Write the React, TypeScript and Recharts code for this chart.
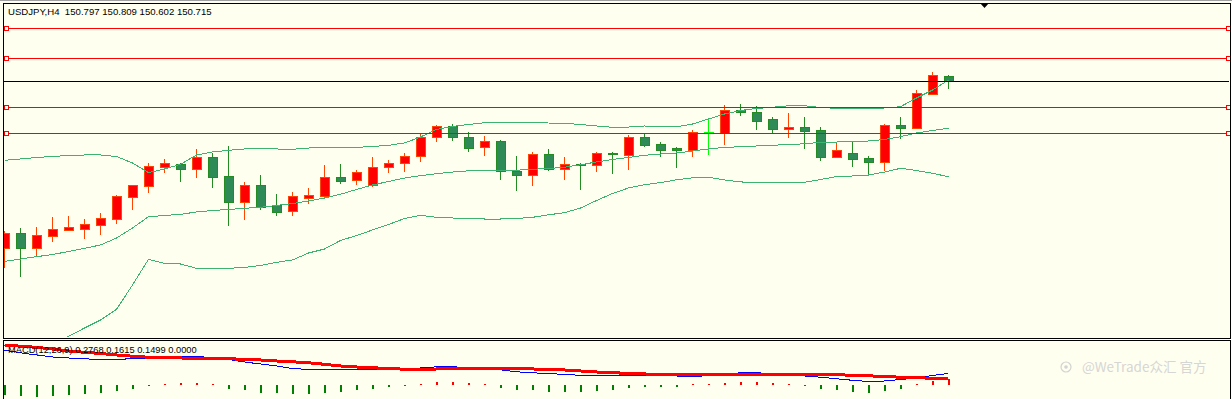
import React from 'react';
import { ComposedChart, Bar, Line, XAxis, YAxis, ReferenceLine } from 'recharts';

// USDJPY H4 candles, oldest -> newest
const openPrices = [
  147.927, 148.177, 147.937, 148.137, 148.237, 148.253, 148.320, 148.420, 148.787, 148.970,
  149.287, 149.332, 149.253, 149.443, 149.127, 148.693, 148.977, 148.643, 148.543, 148.770,
  148.803, 149.110, 149.060, 148.977, 149.277, 149.343, 149.460, 149.777, 149.960, 149.777,
  149.610, 149.710, 149.210, 149.143, 149.493, 149.243, 149.327, 149.310, 149.515, 149.487,
  149.777, 149.660, 149.598, 149.570, 149.865, 149.853, 150.227, 150.193, 150.077, 149.920,
  149.948, 149.898, 149.453, 149.515, 149.432, 149.370, 149.982, 149.937, 150.503, 150.797,
];
const highPrices = [
  148.215, 148.270, 148.282, 148.448, 148.465, 148.415, 148.515, 148.810, 148.977, 149.348,
  149.415, 149.348, 149.577, 149.515, 149.632, 149.032, 149.148, 148.832, 148.865, 148.932,
  149.315, 149.332, 149.232, 149.448, 149.398, 149.515, 149.848, 149.982, 149.998, 149.865,
  149.798, 149.727, 149.465, 149.527, 149.577, 149.443, 149.343, 149.532, 149.537, 149.810,
  149.832, 149.703, 149.615, 149.898, 150.098, 150.315, 150.332, 150.298, 150.115, 150.182,
  150.115, 149.948, 149.687, 149.693, 149.460, 149.990, 150.115, 150.565, 150.865, 150.809,
];
const lowPrices = [
  147.620, 147.470, 147.815, 148.053, 148.232, 148.103, 148.170, 148.353, 148.587, 148.870,
  149.203, 149.053, 149.120, 148.953, 148.320, 148.420, 148.577, 148.487, 148.487, 148.677,
  148.787, 149.020, 149.003, 148.972, 149.203, 149.220, 149.382, 149.720, 149.737, 149.553,
  149.487, 149.087, 148.903, 148.987, 149.227, 149.087, 148.920, 149.220, 149.187, 149.253,
  149.637, 149.470, 149.287, 149.470, 149.503, 149.670, 150.148, 149.920, 149.865, 149.787,
  149.603, 149.403, 149.450, 149.303, 149.148, 149.232, 149.760, 149.930, 150.500, 150.602,
];
const closePrices = [
  148.177, 147.937, 148.148, 148.248, 148.282, 148.327, 148.427, 148.793, 148.977, 149.293,
  149.343, 149.253, 149.443, 149.120, 148.693, 148.977, 148.610, 148.537, 148.793, 148.810,
  149.110, 149.053, 149.193, 149.277, 149.343, 149.460, 149.777, 149.960, 149.777, 149.603,
  149.710, 149.210, 149.143, 149.493, 149.243, 149.327, 149.310, 149.510, 149.493, 149.777,
  149.653, 149.570, 149.570, 149.860, 149.853, 150.227, 150.203, 150.053, 149.920, 149.943,
  149.887, 149.453, 149.565, 149.420, 149.370, 149.982, 149.937, 150.515, 150.815, 150.715,
];

// Bollinger bands
const bbUpper = [
  149.393, 149.415, 149.440, 149.457, 149.473, 149.482, 149.482, 149.457, 149.348, 149.187,
  149.248, 149.327, 149.482, 149.532, 149.560, 149.582, 149.582, 149.582, 149.577, 149.598,
  149.610, 149.610, 149.610, 149.623, 149.643, 149.682, 149.782, 149.907, 149.957, 149.990,
  150.020, 150.020, 150.020, 150.018, 150.015, 150.010, 149.990, 149.965, 149.943, 149.948,
  149.965, 149.960, 149.953, 149.998, 150.082, 150.165, 150.223, 150.257, 150.277, 150.303,
  150.303, 150.273, 150.260, 150.260, 150.260, 150.265, 150.287, 150.432, 150.565, 150.732,
];
const bbMiddle = [
  147.710, 147.748, 147.787, 147.823, 147.873, 147.927, 147.982, 148.098, 148.265, 148.453,
  148.473, 148.493, 148.532, 148.557, 148.573, 148.593, 148.610, 148.640, 148.673, 148.715,
  148.765, 148.827, 148.907, 148.982, 149.040, 149.098, 149.137, 149.170, 149.198, 149.218,
  149.227, 149.227, 149.228, 149.243, 149.257, 149.277, 149.320, 149.365, 149.407, 149.440,
  149.477, 149.498, 149.515, 149.548, 149.582, 149.610, 149.618, 149.632, 149.643, 149.657,
  149.668, 149.693, 149.698, 149.703, 149.715, 149.740, 149.787, 149.848, 149.890, 149.927,
];
const bbLower = [
  145.998, 146.115, 146.232, 146.348, 146.457, 146.598, 146.732, 146.910, 147.315, 147.743,
  147.677, 147.665, 147.593, 147.593, 147.593, 147.607, 147.640, 147.693, 147.732, 147.848,
  147.915, 148.057, 148.140, 148.232, 148.323, 148.423, 148.477, 148.443, 148.432, 148.423,
  148.415, 148.415, 148.423, 148.443, 148.485, 148.520, 148.598, 148.723, 148.840, 148.932,
  148.987, 149.022, 149.068, 149.102, 149.110, 149.065, 149.032, 149.028, 149.028, 149.028,
  149.028, 149.073, 149.123, 149.132, 149.148, 149.198, 149.260, 149.223, 149.177, 149.120,
];

// MACD(12,26,9)
const macdMain = [
  0.835, 0.773, 0.720, 0.672, 0.648, 0.629, 0.612, 0.617, 0.629, 0.648,
  0.672, 0.677, 0.677, 0.665, 0.612, 0.552, 0.504, 0.456, 0.396, 0.372,
  0.372, 0.372, 0.372, 0.372, 0.372, 0.384, 0.408, 0.437, 0.437, 0.420,
  0.396, 0.365, 0.317, 0.293, 0.276, 0.252, 0.233, 0.228, 0.228, 0.228,
  0.228, 0.228, 0.216, 0.197, 0.228, 0.264, 0.293, 0.293, 0.276, 0.252,
  0.216, 0.187, 0.149, 0.113, 0.084, 0.096, 0.132, 0.168, 0.228, 0.2768,
];
const macdSignal = [
  0.960, 0.931, 0.905, 0.864, 0.816, 0.785, 0.756, 0.720, 0.691, 0.667,
  0.653, 0.648, 0.643, 0.636, 0.629, 0.617, 0.600, 0.576, 0.557, 0.533,
  0.497, 0.456, 0.432, 0.413, 0.396, 0.379, 0.372, 0.384, 0.403, 0.403,
  0.403, 0.403, 0.403, 0.384, 0.379, 0.360, 0.336, 0.312, 0.293, 0.281,
  0.264, 0.259, 0.240, 0.240, 0.240, 0.240, 0.240, 0.245, 0.259, 0.259,
  0.259, 0.259, 0.245, 0.235, 0.221, 0.204, 0.187, 0.173, 0.163, 0.1615,
];
const macdHist = [
  -0.240, -0.264, -0.288, -0.264, -0.240, -0.204, -0.180, -0.144, -0.084, -0.024,
  0.017, 0.041, 0.041, 0.024, -0.084, -0.120, -0.192, -0.192, -0.204, -0.204,
  -0.192, -0.156, -0.120, -0.084, -0.036, -0.017, 0.024, 0.072, 0.072, 0.048,
  0.017, -0.065, -0.120, -0.120, -0.168, -0.168, -0.168, -0.144, -0.120, -0.072,
  -0.041, -0.041, -0.041, 0.024, 0.024, 0.055, 0.072, 0.072, 0.048, 0.017,
  -0.017, -0.089, -0.120, -0.168, -0.192, -0.144, -0.089, 0.024, 0.103, 0.1499,
];

// horizontal levels drawn on the chart
const redLevels = [151.593, 151.093, 150.277, 149.843];
const bidPrice = 150.715;

const titleText = 'USDJPY,H4  150.797 150.809 150.602 150.715';
const macdText = 'MACD(12,26,9) 0.2768 0.1615 0.1499 0.0000';
const watermark = '@WeTrade众汇 官方';

const BG = '#fffff0';
const HIGHLIGHT_BAR = 44; // bar drawn in lime (crosshair bar in MT4)
const FONT = "'Liberation Sans', Arial, sans-serif";

const candles = openPrices.map((o, i) => ({
  i,
  open: o,
  high: highPrices[i],
  low: lowPrices[i],
  close: closePrices[i],
  range: [lowPrices[i], highPrices[i]],
  upper: bbUpper[i],
  mid: bbMiddle[i],
  lower: bbLower[i],
}));

const macdRows = macdMain.map((m, i) => ({ i, main: m, signal: macdSignal[i], hist: macdHist[i] }));

const X_DOMAIN: [number, number] = [-0.0625, 76.5];

const Candle = (props: any) => {
  const { x, y, width, height, index } = props;
  const d = props.payload ?? props;
  if (d == null || d.high == null) return null;
  const { open, close, high, low } = d;
  const pix = (v: number) => y + ((high - v) / (high - low)) * height;
  const cx = Math.floor(x + width / 2) + 0.5;
  const up = close >= open;
  const hl = index === HIGHLIGHT_BAR;
  const edge = hl ? '#00ff00' : up ? '#ff4500' : '#228b22';
  const fill = hl ? '#00ff00' : up ? '#ff0000' : '#2e8b57';
  const top = Math.round(pix(Math.max(open, close))) + 0.5;
  const bot = Math.round(pix(Math.min(open, close))) + 0.5;
  return (
    <g shapeRendering="crispEdges">
      <line x1={cx} x2={cx} y1={Math.round(pix(high))} y2={Math.round(pix(low)) + 1} stroke={edge} />
      <rect x={cx - 4} y={top} width={9} height={Math.max(bot - top, 1)} fill={fill} stroke={edge} />
    </g>
  );
};

const HistBar = (props: any) => {
  const { x, y, width, height } = props;
  const d = props.payload ?? props;
  const top = Math.round(Math.min(y, y + height));
  const h = Math.max(Math.round(Math.abs(height)), 1);
  return (
    <rect
      x={Math.floor(x + width / 2)}
      y={top}
      width={2}
      height={h}
      fill={d.hist >= 0 ? '#ff0000' : '#008000'}
      shapeRendering="crispEdges"
    />
  );
};

const LevelLine = (p: any) => (
  <g shapeRendering="crispEdges">
    <line x1={p.x1} x2={p.x2} y1={Math.round(p.y1) + 0.5} y2={Math.round(p.y2) + 0.5} stroke="#ff0000" />
    <rect x={p.x1 + 1} y={Math.round(p.y1) - 1.5} width={4} height={4} fill={BG} stroke="#ff0000" />
    <rect x={p.x2 - 2} y={Math.round(p.y2) - 1.5} width={4} height={4} fill={BG} stroke="#ff0000" />
  </g>
);

const BidLine = (p: any) => (
  <line x1={p.x1} x2={p.x2} y1={Math.round(p.y1) + 0.5} y2={Math.round(p.y2) + 0.5} stroke="#000" shapeRendering="crispEdges" />
);

export default function App() {
  return (
    <div style={{ position: 'absolute', left: 0, top: 0, width: 1232, height: 399, background: BG, overflow: 'hidden' }}>
      <div style={{ position: 'absolute', left: 0, top: 0 }}>
        <ComposedChart width={1232} height={340} data={candles} margin={{ top: 3.9, right: 3.5, bottom: 3.1, left: 3.5 }}>
          <XAxis dataKey="i" type="number" domain={X_DOMAIN} hide allowDataOverflow />
          <YAxis type="number" domain={[146.45, 152.0]} hide allowDataOverflow />
          <Line dataKey="upper" stroke="#3cb371" strokeWidth={1} dot={false} shapeRendering="crispEdges" isAnimationActive={false} />
          <Line dataKey="mid" stroke="#3cb371" strokeWidth={1} dot={false} shapeRendering="crispEdges" isAnimationActive={false} />
          <Line dataKey="lower" stroke="#3cb371" strokeWidth={1} dot={false} shapeRendering="crispEdges" isAnimationActive={false} />
          {redLevels.map((v) => (
            <ReferenceLine key={v} y={v} stroke="#ff0000" shape={LevelLine} />
          ))}
          <ReferenceLine y={bidPrice} stroke="#000" shape={BidLine} />
          <Bar dataKey="range" barSize={10} shape={(p: any) => <Candle {...p} />} isAnimationActive={false} />
        </ComposedChart>
      </div>
      <div style={{ position: 'absolute', left: 0, top: 340 }}>
        <ComposedChart width={1232} height={59} data={macdRows} margin={{ top: 3.33, right: 3.5, bottom: 1.5, left: 3.5 }}>
          <XAxis dataKey="i" type="number" domain={X_DOMAIN} hide allowDataOverflow />
          <YAxis type="number" domain={[-0.3, 1.0]} hide allowDataOverflow />
          <Bar dataKey="hist" barSize={2} shape={(p: any) => <HistBar {...p} />} isAnimationActive={false} />
          <Line dataKey="main" stroke="#0000ff" strokeWidth={1} dot={false} shapeRendering="crispEdges" isAnimationActive={false} />
          <Line dataKey="signal" stroke="#ff0000" strokeWidth={3} dot={false} shapeRendering="crispEdges" isAnimationActive={false} />
        </ComposedChart>
      </div>
      <svg width={1232} height={399} style={{ position: 'absolute', left: 0, top: 0, pointerEvents: 'none' }}>
        <g shapeRendering="crispEdges" fill="none">
          <line x1={0} x2={1232} y1={0.5} y2={0.5} stroke="#a0a0a0" />
          <rect x={3.5} y={3.5} width={1227} height={335} stroke="#000" />
          <rect x={3.5} y={340.5} width={1227} height={70} stroke="#000" />
        </g>
        <polygon points="980,3 989,3 984.5,8" fill="#000" />
        <text x={8} y={15} fontFamily={FONT} fontSize={9.6} fill="#000" style={{ whiteSpace: 'pre' }}>
          {titleText}
        </text>
        <text x={8} y={353} fontFamily={FONT} fontSize={9.3} fill="#000" style={{ whiteSpace: 'pre' }}>
          {macdText}
        </text>
        <g opacity={0.9}>
          <circle cx={1066} cy={367} r={5} fill="none" stroke="#cfcfcf" strokeWidth={1.2} />
          <circle cx={1066} cy={367} r={1.8} fill="#cfcfcf" />
          <text x={1082} y={372} fontFamily="'Noto Sans CJK SC', 'Noto Sans', sans-serif" fontSize={13.5} fill="#d2d2d2">
            {watermark}
          </text>
        </g>
      </svg>
    </div>
  );
}
